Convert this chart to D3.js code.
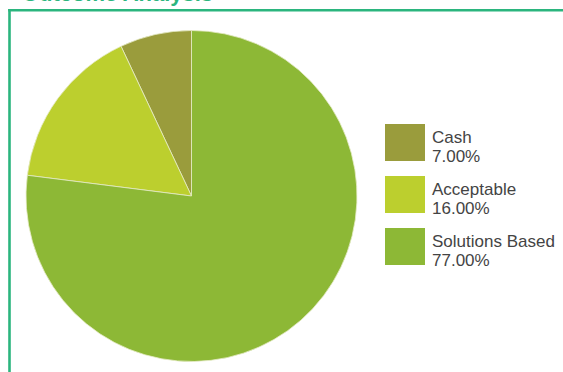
<!DOCTYPE html>
<html>
<head>
<meta charset="utf-8">
<script src="https://cdn.jsdelivr.net/npm/d3@7"></script>
<style>
  html, body { margin: 0; padding: 0; background: #ffffff; }
  svg { display: block; }
</style>
</head>
<body>
<script>
// Share of payouts by type
const categories = ["Cash", "Acceptable", "Solutions Based"];
const shares = [7.00, 16.00, 77.00];
const colors = ["#9a9c3c", "#bccf2e", "#8db836"];
const title = "Outcome Analysis";

const W = 563, H = 372;
const svg = d3.select("body").append("svg")
  .attr("width", W).attr("height", H);

// Heading sits above the panel's top edge, only its foot within view
svg.append("text")
  .attr("x", 22).attr("y", 0.5)
  .attr("font-family", "Liberation Sans, Arial, sans-serif")
  .attr("font-weight", "bold")
  .attr("font-size", 22)
  .attr("fill", "#2bb57e")
  .text(title);

// Panel frame: top and left rules
const frame = svg.append("g")
  .attr("stroke", "#2bb57e")
  .attr("stroke-width", 2.6)
  .attr("fill", "none");
frame.append("line").attr("x1", 8.2).attr("x2", W).attr("y1", 10.2).attr("y2", 10.2);
frame.append("line").attr("x1", 9.5).attr("x2", 9.5).attr("y1", 9).attr("y2", H);

// Pie, drawn counter-clockwise from 12 o'clock
const cx = 191.5, cy = 196, R = 165.5;
const color = d3.scaleOrdinal().domain(categories).range(colors);
const pie = d3.pie().sort(null).value(d => d.v)
  .startAngle(0).endAngle(-2 * Math.PI);
const arc = d3.arc().innerRadius(0).outerRadius(R);
const data = categories.map((c, i) => ({ c, v: shares[i] }));

svg.append("g")
  .attr("transform", `translate(${cx},${cy})`)
  .selectAll("path")
  .data(pie(data))
  .join("path")
  .attr("d", arc)
  .attr("fill", d => color(d.data.c))
  .attr("stroke", "#e6ebc8")
  .attr("stroke-width", 0.8);

// Legend
const legendY = d3.scalePoint().domain(categories).range([124, 228]);
const fmt = d3.format(".2f");
const item = svg.append("g").selectAll("g")
  .data(data)
  .join("g")
  .attr("transform", d => `translate(385,${legendY(d.c)})`);

item.append("rect")
  .attr("width", 40).attr("height", 37)
  .attr("fill", d => color(d.c));

const txt = item.append("text")
  .attr("font-family", "Liberation Sans, Arial, sans-serif")
  .attr("font-size", 17)
  .attr("fill", "#444444");
txt.append("tspan").attr("x", 47).attr("y", 19).text(d => d.c);
txt.append("tspan").attr("x", 47).attr("y", 38).text(d => fmt(d.v) + "%");
</script>
</body>
</html>
